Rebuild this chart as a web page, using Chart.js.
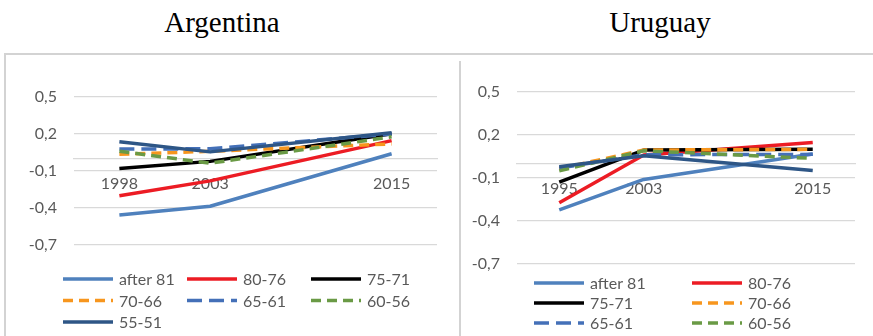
<!DOCTYPE html>
<html>
<head>
<meta charset="utf-8">
<script src="https://cdn.jsdelivr.net/npm/chart.js@4.4.1/dist/chart.umd.min.js"></script>
<style>
  html, body { margin: 0; padding: 0; background: #fff; width: 873px; height: 336px; overflow: hidden; position: relative; }
  .title { position: absolute; top: 8px; width: 300px; text-align: center;
           font-family: "Liberation Serif", "Times New Roman", serif; font-size: 29px; line-height: 29px; color: #000; }
  .rule { position: absolute; background: #d3d3d3; }
  canvas { position: absolute; }
</style>
</head>
<body>
<div class="title" style="left:72px">Argentina</div>
<div class="title" style="left:510px">Uruguay</div>
<div class="rule" style="left:4px;top:53px;width:869px;height:2px"></div>
<div class="rule" style="left:4px;top:53px;width:2px;height:283px"></div>
<div class="rule" style="left:459px;top:61px;width:2px;height:275px"></div>
<canvas id="arg" width="452" height="280" style="left:6px;top:56px"></canvas>
<canvas id="uru" width="412" height="300" style="left:461px;top:56px"></canvas>
<script>
// Birth cohorts (series names)
const cohorts = ['after 81', '80-76', '75-71', '70-66', '65-61', '60-56', '55-51'];

// Survey years on the category axis (the blank slot keeps 2003–2015 twice as wide)
const argYears = ['1998', '2003', '', '2015'];
const uruYears = ['1995', '2003', '', '2015'];

// Value-axis ticks
const yTickValues = [-0.7, -0.4, -0.1, 0.2, 0.5];

// Argentina, one array per cohort
const argAfter81 = [-0.457, -0.386, null, 0.040];
const arg80_76   = [-0.300, -0.180, null, 0.146];
const arg75_71   = [-0.080, -0.022, null, 0.202];
const arg70_66   = [ 0.035,  0.060, null, 0.120];
const arg65_61   = [ 0.078,  0.080, null, 0.200];
const arg60_56   = [ 0.060, -0.037, null, 0.177];
const arg55_51   = [ 0.138,  0.055, null, 0.210];

// Uruguay, one array per cohort
const uruAfter81 = [-0.323, -0.110, null, 0.068];
const uru80_76   = [-0.272,  0.060, null, 0.147];
const uru75_71   = [-0.128,  0.095, null, 0.100];
const uru70_66   = [-0.035,  0.095, null, 0.100];
const uru65_61   = [-0.030,  0.062, null, 0.065];
const uru60_56   = [-0.050,  0.090, null, 0.037];
const uru55_51   = [-0.022,  0.055, null, -0.047];

const argSeries = [argAfter81, arg80_76, arg75_71, arg70_66, arg65_61, arg60_56, arg55_51];
const uruSeries = [uruAfter81, uru80_76, uru75_71, uru70_66, uru65_61, uru60_56, uru55_51];

// Line styles per cohort
const lineColors = ['#4f81bd', '#ec1c24', '#000000', '#f7961e', '#4470b8', '#6a9a45', '#2e5686'];
const lineDashes = [[], [], [], [10, 6], [15, 7], [10, 6], []];

const GRID = '#d9d9d9';
const TEXT = '#595959';
const FONT = 'Lato, "Open Sans", sans-serif';

const fmt = v => (Math.round(v * 10) / 10).toFixed(1).replace('.', ',');

// Legend drawn as a fixed grid of columns under the plot
const gridLegend = {
  id: 'gridLegend',
  afterDraw(chart, args, opts) {
    const ctx = chart.ctx;
    ctx.save();
    ctx.font = '16px ' + FONT;
    ctx.fillStyle = TEXT;
    ctx.textBaseline = 'middle';
    chart.data.datasets.forEach((ds, i) => {
      const col = i % opts.cols, row = Math.floor(i / opts.cols);
      const x = opts.x + col * opts.colW;
      const y = opts.y + row * opts.rowH;
      ctx.beginPath();
      ctx.setLineDash(ds.borderDash || []);
      ctx.strokeStyle = ds.borderColor;
      ctx.lineWidth = ds.borderWidth;
      ctx.lineCap = 'butt';
      ctx.moveTo(x, y);
      ctx.lineTo(x + opts.sampleW, y);
      ctx.stroke();
      ctx.setLineDash([]);
      ctx.fillText(ds.label, x + opts.sampleW + 6, y + 1);
    });
    ctx.restore();
  }
};

function makeChart(id, years, series, geom) {
  const n = series.length;
  const datasets = series.map((vals, i) => ({
    label: cohorts[i],
    data: vals,
    borderColor: lineColors[i],
    backgroundColor: lineColors[i],
    borderWidth: 3.5,
    borderDash: lineDashes[i],
    borderJoinStyle: 'round',
    pointRadius: 0,
    tension: 0,
    spanGaps: true,
    fill: false,
    order: n - i
  }));
  return new Chart(document.getElementById(id), {
    type: 'line',
    data: { labels: years, datasets },
    options: {
      responsive: false,
      animation: false,
      devicePixelRatio: 1,
      layout: { padding: geom.padding },
      plugins: {
        legend: { display: false },
        tooltip: { enabled: false },
        gridLegend: geom.legend
      },
      scales: {
        x: {
          type: 'category',
          offset: true,
          position: { y: 0 },
          grid: { display: false, drawTicks: false },
          border: { display: true, color: GRID, width: 1.3 },
          ticks: { padding: geom.xPad, color: TEXT, font: { family: FONT, size: 16 },
                   autoSkip: false, maxRotation: 0 }
        },
        y: {
          min: -0.7, max: 0.5,
          afterBuildTicks: s => { s.ticks = yTickValues.map(v => ({ value: v })); },
          afterFit: s => { s.width = geom.axisW; },
          grid: { color: GRID, lineWidth: 1.3, drawTicks: false },
          border: { display: false },
          ticks: { padding: 17, color: TEXT, font: { family: FONT, size: 16 }, callback: v => fmt(v) }
        }
      }
    },
    plugins: [gridLegend]
  });
}

makeChart('arg', argYears, argSeries, {
  padding: { top: 41, right: 21, bottom: 91, left: 0 },
  axisW: 68, xPad: 16,
  legend: { x: 57, y: 223, cols: 3, colW: 124, rowH: 21.5, sampleW: 50 }
});

makeChart('uru', uruYears, uruSeries, {
  padding: { top: 36, right: 18, bottom: 92, left: 0 },
  axisW: 56, xPad: 16,
  legend: { x: 73, y: 227, cols: 2, colW: 158, rowH: 20, sampleW: 50 }
});
</script>
</body>
</html>
